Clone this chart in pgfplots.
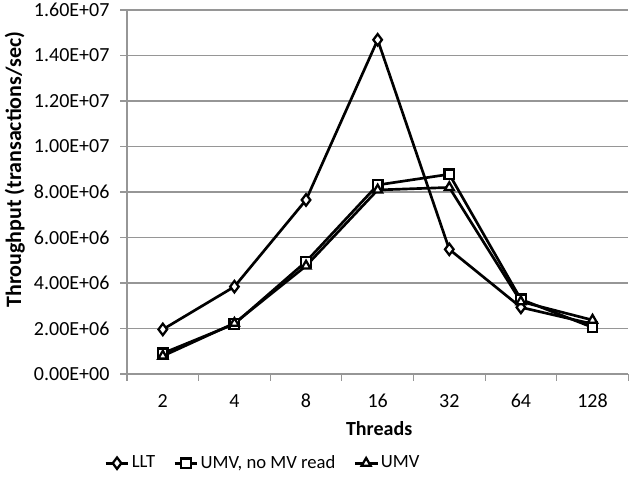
\documentclass[border=0pt]{standalone}
\usepackage{pgfplots}
\pgfplotsset{compat=1.18}
\usepackage{fontspec}
\setmainfont{Carlito}
\definecolor{gridgray}{RGB}{150,150,150}
\begin{document}
\fontsize{15pt}{17pt}\selectfont
\begin{tikzpicture}
\path[use as bounding box] (-95.25pt,-78pt) rectangle (376.5pt,280.5pt);
\begin{axis}[
  scale only axis,
  width=376pt, height=273pt,
  xmin=-0.5, xmax=6.5,
  ymin=0, ymax=16000000,
  axis lines*=left,
  axis line style={gridgray, line width=0.8pt},
  xtick={0,...,6},
  xticklabels={2,4,8,16,32,64,128},
  major x tick style={draw=none},
  minor xtick={-0.5,0.5,...,6.5},
  minor x tick style={gridgray, line width=0.8pt},
  minor tick length=5pt,
  ytick={0,2000000,...,16000000},
  yticklabels={0.00E+00,2.00E+06,4.00E+06,6.00E+06,8.00E+06,1.00E+07,1.20E+07,1.40E+07,1.60E+07},
  major y tick style={gridgray, line width=0.8pt},
  major tick length=5pt,
  tick align=outside,
  ymajorgrids,
  grid style={gridgray, line width=0.8pt},
  scaled y ticks=false,
  tick label style={font=\fontsize{15pt}{17pt}\selectfont},
  yticklabel style={xshift=-3pt},
  xticklabel style={yshift=-5pt},
  xlabel={\textbf{Threads}},
  ylabel={\textbf{Throughput (transactions/sec)}},
  xlabel style={font=\fontsize{15pt}{17pt}\selectfont, at={(axis description cs:0.503,-0.151)}, anchor=center},
  ylabel style={font=\fontsize{16.5pt}{19pt}\selectfont, at={(axis description cs:-0.2236,0.561)}, anchor=center},
  legend style={at={(0.271,-0.245)}, anchor=center, draw=none, fill=none,
    legend columns=3, font=\fontsize{14pt}{16pt}\selectfont,
    nodes={inner sep=1.5pt},
    /tikz/every even column/.append style={column sep=12pt}},
  legend cell align=left,
  legend image code/.code={
    \draw[#1, mark=none] (0cm,0cm) -- (0.6cm,0cm);
    \path[#1] plot coordinates {(0.3cm,0cm)};
  },
  every axis plot/.append style={black, line width=2pt, mark options={solid, fill=white, line width=1.7pt}},
]
\addplot[mark=diamond*, mark size=4.3pt] coordinates {
 (0,1960000) (1,3840000) (2,7650000) (3,14690000) (4,5480000) (5,2930000) (6,2200000)};
\addlegendentry{LLT}
\addplot[mark=square*, mark size=3.6pt] coordinates {
 (0,910000) (1,2200000) (2,4940000) (3,8310000) (4,8780000) (5,3280000) (6,2050000)};
\addlegendentry{UMV, no MV read}
\addplot[mark=triangle*, mark size=3.9pt] coordinates {
 (0,790000) (1,2230000) (2,4750000) (3,8090000) (4,8200000) (5,3180000) (6,2370000)};
\addlegendentry{UMV}
\end{axis}
\end{tikzpicture}
\end{document}
